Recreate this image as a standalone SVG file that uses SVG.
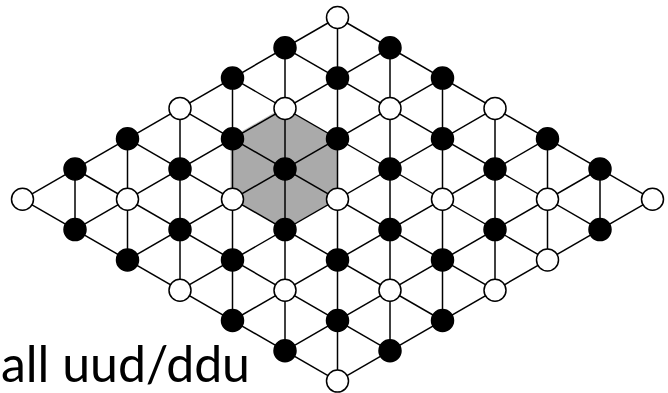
<svg xmlns="http://www.w3.org/2000/svg" width="668" height="393" viewBox="0 0 668 393">
<style>
.e{stroke:#000;stroke-width:1.5;fill:none}
.w{fill:#fff;stroke:#000;stroke-width:1.5}
.b{fill:#000;stroke:#000;stroke-width:1.5}
.t{font-family:"Lato","Open Sans","Liberation Sans",sans-serif;font-size:50px;fill:#000}
</style>
<rect width="668" height="393" fill="#fff"/>
<g id="hexagon">
<polygon points="283,107.4 335.5,137.7 335.5,198.3 283,228.6 230.5,198.3 230.5,137.7" fill="#c4c4c4"/>
<polygon points="285,108.4 337.5,138.7 337.5,199.3 285,229.6 232.5,199.3 232.5,138.7" fill="#aaaaaa"/>
</g>
<g id="connectors">
<line class="e" x1="337.5" y1="17.5" x2="22.5" y2="199.3"/>
<line class="e" x1="390" y1="47.8" x2="75" y2="229.6"/>
<line class="e" x1="442.5" y1="78.1" x2="127.5" y2="259.9"/>
<line class="e" x1="495" y1="108.4" x2="180" y2="290.2"/>
<line class="e" x1="547.5" y1="138.7" x2="232.5" y2="320.5"/>
<line class="e" x1="600" y1="169" x2="285" y2="350.8"/>
<line class="e" x1="652.5" y1="199.3" x2="337.5" y2="381.1"/>
<line class="e" x1="337.5" y1="17.5" x2="652.5" y2="199.3"/>
<line class="e" x1="285" y1="47.8" x2="600" y2="229.6"/>
<line class="e" x1="232.5" y1="78.1" x2="547.5" y2="259.9"/>
<line class="e" x1="180" y1="108.4" x2="495" y2="290.2"/>
<line class="e" x1="127.5" y1="138.7" x2="442.5" y2="320.5"/>
<line class="e" x1="75" y1="169" x2="390" y2="350.8"/>
<line class="e" x1="22.5" y1="199.3" x2="337.5" y2="381.1"/>
<line class="e" x1="337.5" y1="17.5" x2="337.5" y2="381.1"/>
<line class="e" x1="285" y1="47.8" x2="285" y2="350.8"/>
<line class="e" x1="390" y1="47.8" x2="390" y2="350.8"/>
<line class="e" x1="232.5" y1="78.1" x2="232.5" y2="320.5"/>
<line class="e" x1="442.5" y1="78.1" x2="442.5" y2="320.5"/>
<line class="e" x1="180" y1="108.4" x2="180" y2="290.2"/>
<line class="e" x1="495" y1="108.4" x2="495" y2="290.2"/>
<line class="e" x1="127.5" y1="138.7" x2="127.5" y2="259.9"/>
<line class="e" x1="547.5" y1="138.7" x2="547.5" y2="259.9"/>
<line class="e" x1="75" y1="169" x2="75" y2="229.6"/>
<line class="e" x1="600" y1="169" x2="600" y2="229.6"/>
</g>
<g id="nodes">
<g id="n0-0"><circle class="w" cx="337.5" cy="17.5" r="11"/></g>
<g id="n1-0"><circle class="b" cx="285" cy="47.8" r="11"/></g>
<g id="n0-1"><circle class="b" cx="390" cy="47.8" r="11"/></g>
<g id="n2-0"><circle class="b" cx="232.5" cy="78.1" r="11"/></g>
<g id="n1-1"><circle class="b" cx="337.5" cy="78.1" r="11"/></g>
<g id="n0-2"><circle class="b" cx="442.5" cy="78.1" r="11"/></g>
<g id="n3-0"><circle class="w" cx="180" cy="108.4" r="11"/></g>
<g id="n2-1"><circle class="w" cx="285" cy="108.4" r="11"/></g>
<g id="n1-2"><circle class="w" cx="390" cy="108.4" r="11"/></g>
<g id="n0-3"><circle class="w" cx="495" cy="108.4" r="11"/></g>
<g id="n4-0"><circle class="b" cx="127.5" cy="138.7" r="11"/></g>
<g id="n3-1"><circle class="b" cx="232.5" cy="138.7" r="11"/></g>
<g id="n2-2"><circle class="b" cx="337.5" cy="138.7" r="11"/></g>
<g id="n1-3"><circle class="b" cx="442.5" cy="138.7" r="11"/></g>
<g id="n0-4"><circle class="b" cx="547.5" cy="138.7" r="11"/></g>
<g id="n5-0"><circle class="b" cx="75" cy="169" r="11"/></g>
<g id="n4-1"><circle class="b" cx="180" cy="169" r="11"/></g>
<g id="n3-2"><circle class="b" cx="285" cy="169" r="11"/></g>
<g id="n2-3"><circle class="b" cx="390" cy="169" r="11"/></g>
<g id="n1-4"><circle class="b" cx="495" cy="169" r="11"/></g>
<g id="n0-5"><circle class="b" cx="600" cy="169" r="11"/></g>
<g id="n6-0"><circle class="w" cx="22.5" cy="199.3" r="11"/></g>
<g id="n5-1"><circle class="w" cx="127.5" cy="199.3" r="11"/></g>
<g id="n4-2"><circle class="w" cx="232.5" cy="199.3" r="11"/></g>
<g id="n3-3"><circle class="w" cx="337.5" cy="199.3" r="11"/></g>
<g id="n2-4"><circle class="w" cx="442.5" cy="199.3" r="11"/></g>
<g id="n1-5"><circle class="w" cx="547.5" cy="199.3" r="11"/></g>
<g id="n0-6"><circle class="w" cx="652.5" cy="199.3" r="11"/></g>
<g id="n6-1"><circle class="b" cx="75" cy="229.6" r="11"/></g>
<g id="n5-2"><circle class="b" cx="180" cy="229.6" r="11"/></g>
<g id="n4-3"><circle class="b" cx="285" cy="229.6" r="11"/></g>
<g id="n3-4"><circle class="b" cx="390" cy="229.6" r="11"/></g>
<g id="n2-5"><circle class="b" cx="495" cy="229.6" r="11"/></g>
<g id="n1-6"><circle class="b" cx="600" cy="229.6" r="11"/></g>
<g id="n6-2"><circle class="b" cx="127.5" cy="259.9" r="11"/></g>
<g id="n5-3"><circle class="b" cx="232.5" cy="259.9" r="11"/></g>
<g id="n4-4"><circle class="b" cx="337.5" cy="259.9" r="11"/></g>
<g id="n3-5"><circle class="b" cx="442.5" cy="259.9" r="11"/></g>
<g id="n2-6"><circle class="w" cx="547.5" cy="259.9" r="11"/></g>
<g id="n6-3"><circle class="w" cx="180" cy="290.2" r="11"/></g>
<g id="n5-4"><circle class="w" cx="285" cy="290.2" r="11"/></g>
<g id="n4-5"><circle class="w" cx="390" cy="290.2" r="11"/></g>
<g id="n3-6"><circle class="w" cx="495" cy="290.2" r="11"/></g>
<g id="n6-4"><circle class="b" cx="232.5" cy="320.5" r="11"/></g>
<g id="n5-5"><circle class="b" cx="337.5" cy="320.5" r="11"/></g>
<g id="n4-6"><circle class="b" cx="442.5" cy="320.5" r="11"/></g>
<g id="n6-5"><circle class="b" cx="285" cy="350.8" r="11"/></g>
<g id="n5-6"><circle class="b" cx="390" cy="350.8" r="11"/></g>
<g id="n6-6"><circle class="w" cx="337.5" cy="381.1" r="11"/></g>
</g>
<text class="t" x="1" y="382" textLength="249">all uud/ddu</text>
</svg>
